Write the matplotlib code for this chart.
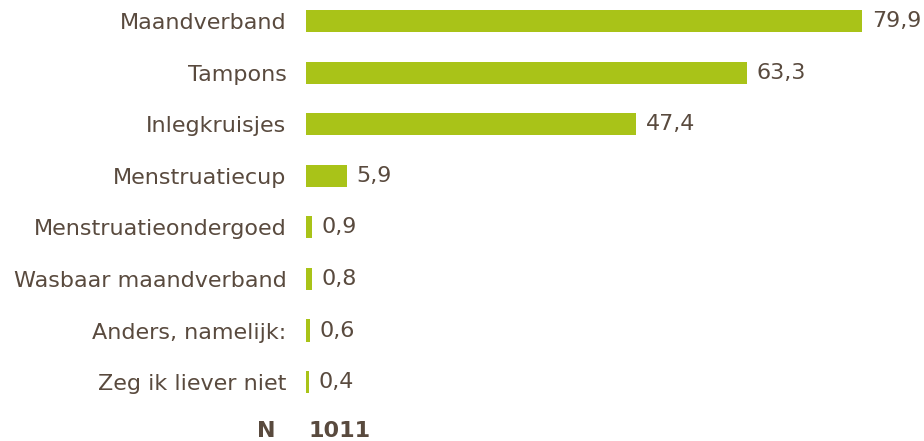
import matplotlib.pyplot as plt

# data
categories = ['Maandverband', 'Tampons', 'Inlegkruisjes', 'Menstruatiecup',
              'Menstruatieondergoed', 'Wasbaar maandverband', 'Anders, namelijk:',
              'Zeg ik liever niet']
values = [79.9, 63.3, 47.4, 5.9, 0.9, 0.8, 0.6, 0.4]
n_label = 'N'
n_value = '1011'

bar_color = '#a9c318'
text_color = '#594a3e'
fs = 16

fig = plt.figure(figsize=(9.24, 4.41), dpi=100)
ax = fig.add_axes([306 / 924, 0, 1 - 306 / 924, 1])

ypos = list(range(len(categories)))
ax.barh(ypos, values, height=0.43, color=bar_color)

ax.set_xlim(0, (924 - 306) / 6.96)
ax.set_ylim(8.14, -0.407)

ax.set_yticks(ypos)
ax.set_yticklabels(categories, fontsize=fs, color=text_color)
ax.tick_params(axis='y', length=0, pad=14)
ax.set_xticks([])
for s in ax.spines.values():
    s.set_visible(False)

# value labels
for y, v in zip(ypos, values):
    ax.annotate(('%.1f' % v).replace('.', ','), xy=(v, y), xytext=(7, 0),
                textcoords='offset points', ha='left', va='center',
                fontsize=fs, color=text_color)

# N row
ny = len(categories) - 0.06
ax.annotate(n_label, xy=(0, ny), xytext=(-22, 0), textcoords='offset points',
            ha='right', va='center', fontsize=fs, fontweight='bold',
            color=text_color, annotation_clip=False)
ax.annotate(n_value, xy=(0, ny), xytext=(1.5, 0), textcoords='offset points',
            ha='left', va='center', fontsize=fs, fontweight='bold',
            color=text_color, annotation_clip=False)

fig.savefig('out.png', dpi=100)
